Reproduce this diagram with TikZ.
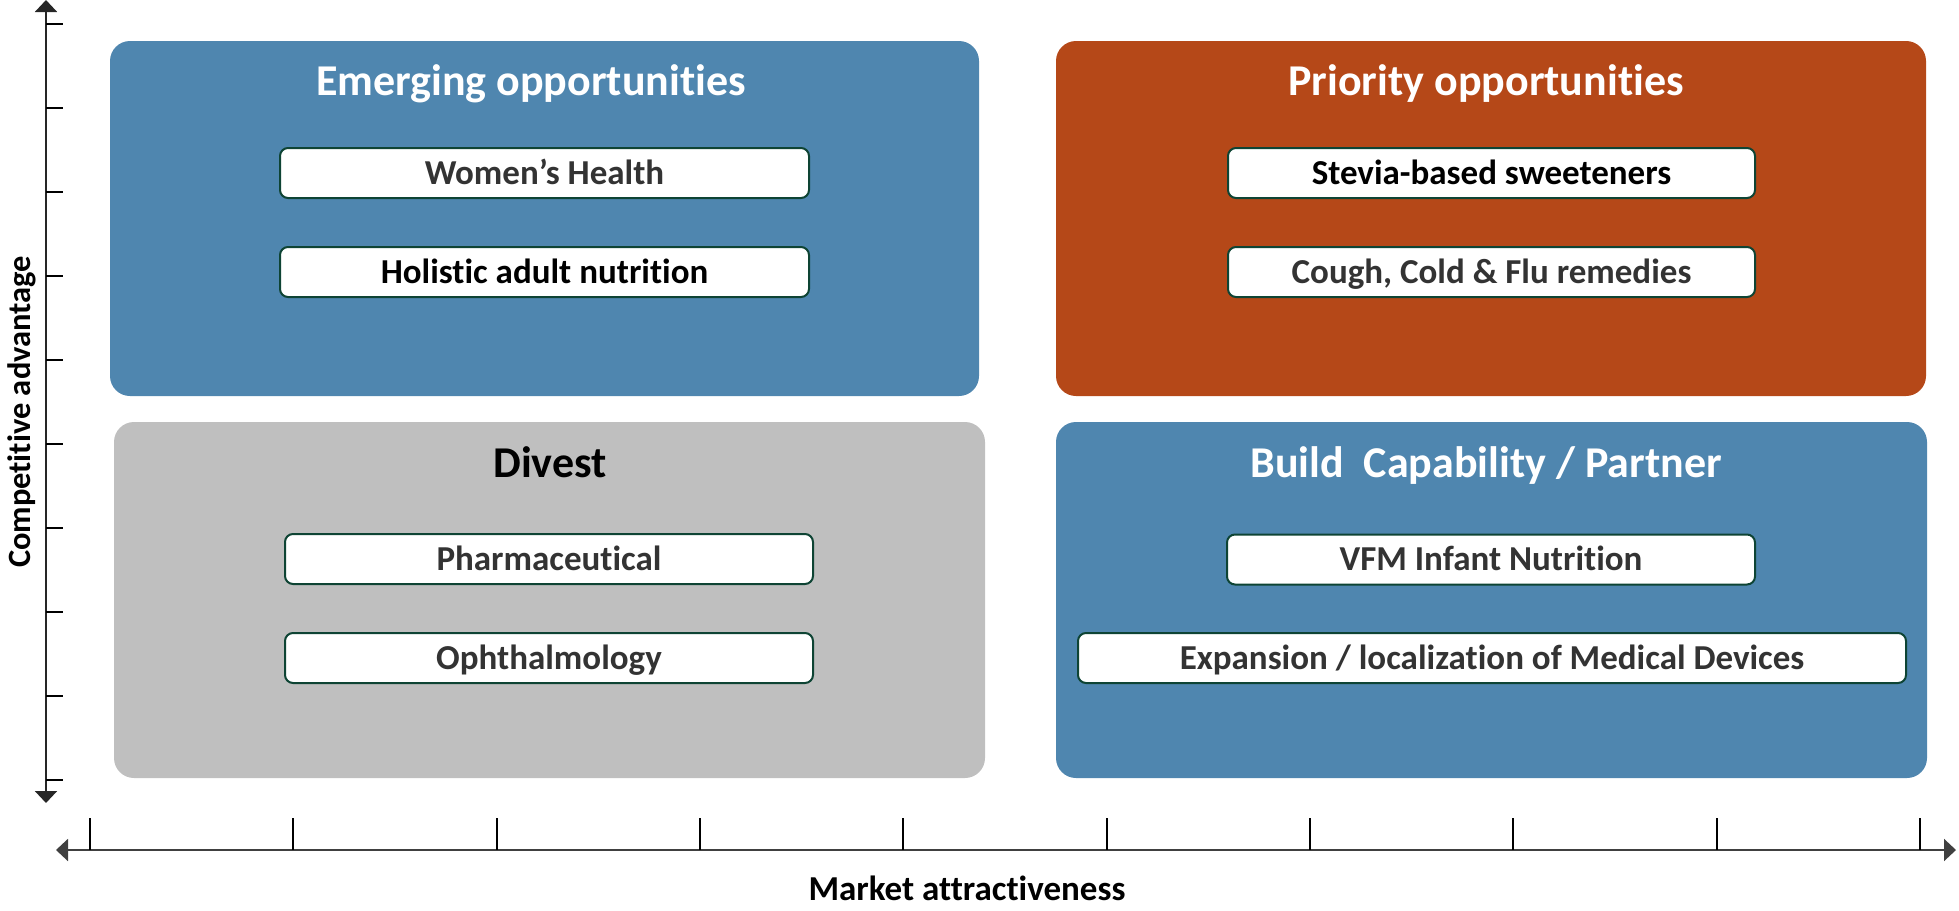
\documentclass[tikz,border=0pt]{standalone}
\usepackage{fontspec}
\setmainfont{Carlito}[RawFeature=-liga]
\usetikzlibrary{arrows.meta}
\definecolor{qblue}{RGB}{79,134,175}
\definecolor{qorange}{RGB}{181,72,24}
\definecolor{qgrey}{RGB}{191,191,191}
\definecolor{itemborder}{RGB}{14,68,52}
\definecolor{itemtext}{RGB}{51,51,51}
\definecolor{axisgrey}{RGB}{64,64,64}
\tikzset{
  quad/.style={rounded corners=20pt, inner sep=0pt, draw=none},
  quadtitle/.style={font=\bfseries\fontsize{44}{52}\selectfont, inner sep=0pt, text height=28.3pt, text depth=0pt},
  item/.style={draw=itemborder, line width=2pt, fill=white, rounded corners=8pt, inner sep=0pt,
    minimum height=50pt, font=\bfseries\fontsize{35}{42}\selectfont, text=itemtext,
    text height=22.5pt, text depth=0pt},
  axislabel/.style={font=\bfseries\fontsize{35}{42}\selectfont, inner sep=0pt, text height=22.5pt, text depth=0pt},
  vaxislabel/.style={font=\bfseries\fontsize{32.5}{39}\selectfont, inner sep=0pt, text height=21pt, text depth=0pt},
  tick/.style={line width=2pt, black},
}
\begin{document}
\begin{tikzpicture}[x=1pt, y=-1pt]
\useasboundingbox (0,0) rectangle (1959,910);
% quadrants
\node[quad, fill=qblue, minimum width=869pt, minimum height=355pt] (emq) at (544.5,218.5) {};
\node[quad, fill=qorange, minimum width=870pt, minimum height=355pt] (prq) at (1491,218.5) {};
\node[quad, fill=qgrey, minimum width=871pt, minimum height=356pt] (dvq) at (549.5,600) {};
\node[quad, fill=qblue, minimum width=871pt, minimum height=356pt] (bdq) at (1491.5,600) {};
% titles
\node[quadtitle, text=white] (emt) at (531,81) {Emerging opportunities};
\node[quadtitle, text=white] (prt) at (1486,81) {Priority opportunities};
\node[quadtitle, text=black] (dvt) at (550,463) {Divest};
\node[quadtitle, text=white] (bdt) at (1486,463) {Build\ \ Capability / Partner};
% items
\node[item, minimum width=529pt] (women) at (544.5,173) {Women’s Health};
\node[item, minimum width=529pt, text=black] (holistic) at (544.5,272) {Holistic adult nutrition};
\node[item, minimum width=527pt, text=black] (stevia) at (1491.5,173) {Stevia-based sweeteners};
\node[item, minimum width=527pt] (cough) at (1491.5,272) {Cough, Cold \& Flu remedies};
\node[item, minimum width=528pt] (pharma) at (549,559) {Pharmaceutical};
\node[item, minimum width=528pt] (ophth) at (549,658) {Ophthalmology};
\node[item, minimum width=528pt] (vfm) at (1491,559.5) {VFM Infant Nutrition};
\node[item, minimum width=828pt] (expand) at (1492,658) {Expansion / localization of Medical Devices};
% vertical axis
\coordinate (vtop) at (46,0);
\coordinate (vbot) at (46,803);
\draw[line width=2pt, color=black!85, {Triangle[width=22pt,length=12pt]}-{Triangle[width=22pt,length=12pt]}] (vtop) -- (vbot);
\foreach \k in {0,...,9} {
  \draw[tick] (46,24+84*\k) -- (63,24+84*\k);
}
% horizontal axis
\coordinate (hleft) at (56,850);
\coordinate (hright) at (1956,850);
\draw[line width=2pt, color=axisgrey, {Triangle[width=22pt,length=12pt]}-{Triangle[width=22pt,length=12pt]}] (hleft) -- (hright);
\foreach \k in {0,...,9} {
  \draw[tick] (90+203.33*\k,818) -- (90+203.33*\k,850);
}
% axis labels
\node[axislabel] (xlab) at (967,889) {Market attractiveness};
\node[vaxislabel, rotate=90] (ylab) at (20,412) {Competitive advantage};
\end{tikzpicture}
\end{document}
